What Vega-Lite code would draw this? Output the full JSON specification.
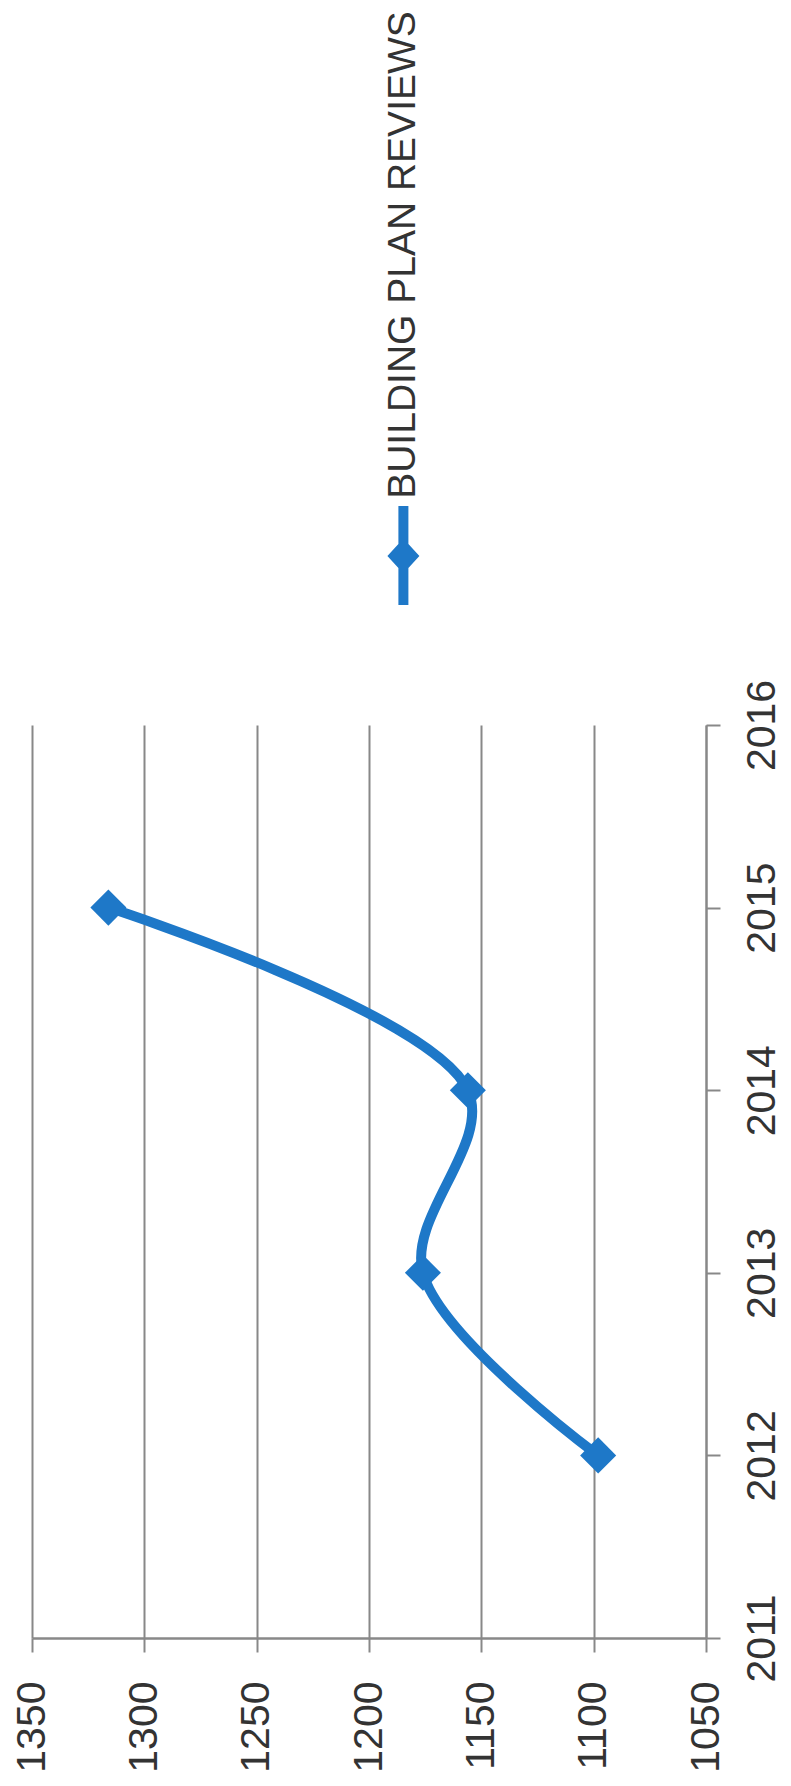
{
  "$schema": "https://vega.github.io/schema/vega-lite/v6.json",
  "autosize": {"type": "pad"},
  "padding": {"left": 11, "top": 0, "right": 8, "bottom": 14},
  "background": "white",
  "config": {
    "view": {"stroke": null, "fill": "white"},
    "font": "Liberation Sans"
  },
  "bounds": "flush",
  "spacing": 215,
  "datasets": {
    "reviews": [
      {"year": 2012, "reviews": 1098, "series": "BUILDING PLAN REVIEWS"},
      {"year": 2013, "reviews": 1176, "series": "BUILDING PLAN REVIEWS"},
      {"year": 2014, "reviews": 1156, "series": "BUILDING PLAN REVIEWS"},
      {"year": 2015, "reviews": 1316, "series": "BUILDING PLAN REVIEWS"}
    ],
    "legend": [
      {"series": "BUILDING PLAN REVIEWS"}
    ]
  },
  "vconcat": [
    {
      "width": 674,
      "height": 510,
      "data": {"name": "legend"},
      "layer": [
        {
          "mark": {
            "type": "text",
            "angle": 270,
            "align": "center",
            "baseline": "middle",
            "font": "Liberation Sans",
            "fontSize": 39,
            "color": "#333333",
            "xOffset": 34.4
          },
          "encoding": {
            "text": {"field": "series", "type": "nominal"}
          }
        },
        {
          "mark": {
            "type": "point",
            "shape": "M-0.1,-1 L0.1,-1 L0.1,-0.24 L0.32,0 L0.1,0.24 L0.1,0.98 L-0.1,0.98 L-0.1,0.24 L-0.32,0 L-0.1,-0.24 Z",
            "size": 10000,
            "filled": true,
            "opacity": 1,
            "color": "#1e78c8",
            "xOffset": 34.4,
            "yOffset": 301
          },
          "encoding": {}
        }
      ]
    },
    {
      "width": 674,
      "height": 913,
      "data": {"name": "reviews"},
      "encoding": {
        "x": {
          "field": "reviews",
          "type": "quantitative",
          "scale": {"domain": [1050, 1350], "reverse": true, "nice": false, "zero": false},
          "axis": {
            "title": null,
            "orient": "bottom",
            "values": [1050, 1100, 1150, 1200, 1250, 1300, 1350],
            "format": "d",
            "labelAngle": -90,
            "labelAlign": "right",
            "labelBaseline": "middle",
            "labelFont": "Liberation Sans",
            "labelFontSize": 41,
            "labelColor": "#333333",
            "labelPadding": 29,
            "tickSize": 14,
            "tickWidth": 2,
            "tickColor": "#888888",
            "domainColor": "#888888",
            "domainWidth": 2.5,
            "grid": true,
            "gridColor": "#888888",
            "gridWidth": 2
          }
        },
        "y": {
          "field": "year",
          "type": "quantitative",
          "scale": {"domain": [2011, 2016], "nice": false, "zero": false},
          "axis": {
            "title": null,
            "orient": "right",
            "values": [2011, 2012, 2013, 2014, 2015, 2016],
            "format": "d",
            "labelAngle": -90,
            "labelAlign": "center",
            "labelBaseline": "top",
            "labelFont": "Liberation Sans",
            "labelFontSize": 41,
            "labelColor": "#333333",
            "labelPadding": 22,
            "tickSize": 14,
            "tickWidth": 2,
            "tickColor": "#888888",
            "domainColor": "#888888",
            "domainWidth": 2,
            "grid": false
          }
        },
        "order": {"field": "year", "type": "quantitative"}
      },
      "layer": [
        {
          "mark": {
            "type": "line",
            "interpolate": "catmull-rom",
            "strokeWidth": 10,
            "color": "#1e78c8",
            "strokeCap": "round"
          }
        },
        {
          "mark": {
            "type": "point",
            "shape": "diamond",
            "size": 1300,
            "filled": true,
            "opacity": 1,
            "color": "#1e78c8"
          }
        }
      ]
    }
  ]
}
